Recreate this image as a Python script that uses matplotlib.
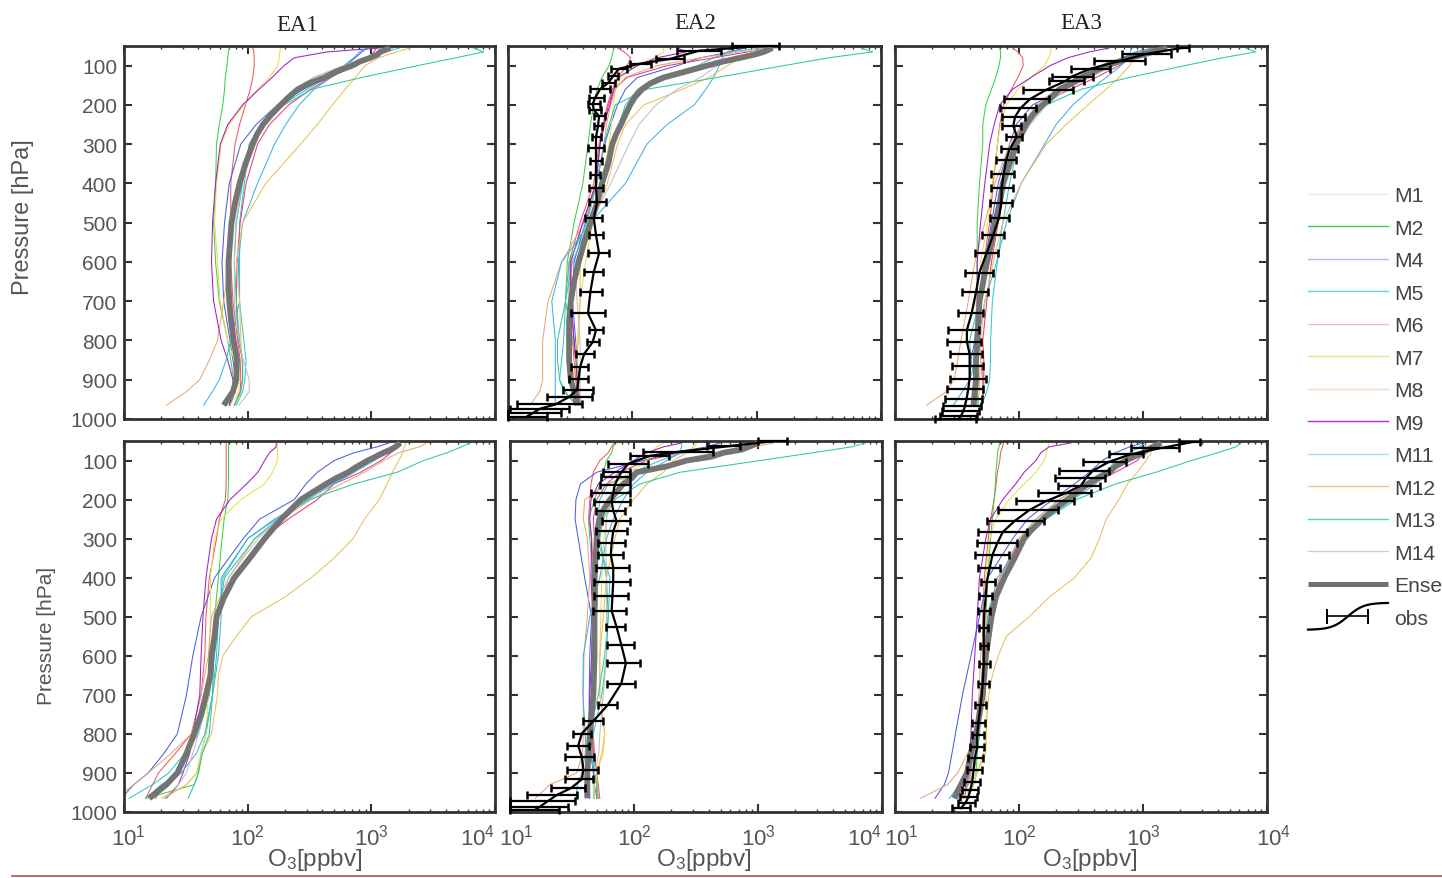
import numpy as np
import matplotlib
matplotlib.use("Agg")
import matplotlib.pyplot as plt
from matplotlib.lines import Line2D
from matplotlib.legend_handler import HandlerBase
from matplotlib.transforms import ScaledTranslation

plt.rcParams['font.family'] = ['Liberation Sans', 'DejaVu Sans']
plt.rcParams['mathtext.default'] = 'regular'

# pressure levels of the profiles [hPa]
LEVELS = [55, 65, 80, 100, 130, 160, 200, 250, 300, 400, 500, 600, 700, 800, 850, 900, 930, 965]
FINE_LEVELS = [55, 65, 80, 100, 130, 160, 200, 250, 300, 350, 400, 450, 500, 550, 600, 650, 700, 800, 850, 900, 930, 965]
ENS_LEVELS = [55, 65, 72, 80, 90, 100, 115, 130, 145, 160, 180, 200, 225, 250, 275, 300, 350, 400, 450, 500,
              550, 600, 650, 700, 750, 800, 850, 900, 930, 965]
MODELS = ['M1', 'M2', 'M4', 'M5', 'M6', 'M7', 'M8', 'M9', 'M11', 'M12', 'M13', 'M14']
COLORS = ['#ec5a62', '#3fd04a', '#4a5fe0', '#35c8c8', '#e83a80', '#e8e050',
          '#e8a878', '#a020c8', '#40b0e8', '#e8c060', '#30c8a0', '#c0c0c0']
LEGEND_COLORS = ['#f8e6ea', '#3fd04a', '#b4b4f0', '#60d8d4', '#f5b8c8', '#e8e880',
                 '#f5d8c0', '#b030d0', '#a8dcf0', '#f0c878', '#50d8b0', '#d0d0d0']

EA1_UPPER = {
    'M1': [110, 112, 113, 113, 110, 105, 96, 86, 79, 73, 73, 73, 76, 83, 87, 88, 87, 78],
    'M2': [71, 70, 69, 68, 66, 65, 63, 59, 56, 55, 53, 55, 59, 69, 73, 77, 76, 71],
    'M4': [925, 840, 740, 620, 440, 285, 174, 117, 88, 71, 65, 62, 64, 72, 76, 80, 79, 72],
    'M5': [1700, 1300, 950, 770, 440, 305, 187, 128, 103, 94, 86, 86, 86, 93, 97, 95, 91, 81],
    'M6': [1100, 1050, 980, 720, 470, 325, 215, 150, 120, 97, 87, 82, 81, 84, 91, 91, 87, 78],
    'M7': [184, 182, 180, 175, 150, 120, 94, 71, 61, 56, 54, 57, 60, 69, 78, 85, 85, 72],
    'M8': [1490, 1150, 900, 600, 345, 245, 174, 130, 110, 88, 75, 71, 64, 57, 49, 41, 32, 22],
    'M9': [1180, 440, 238, 197, 158, 124, 91, 69, 60, 55, 52, 51, 53, 61, 69, 76, 76, 71],
    'M11': [920, 800, 720, 600, 475, 345, 261, 203, 165, 120, 91, 84, 86, 73, 67, 59, 52, 44],
    'M12': [2060, 1600, 1150, 890, 743, 615, 485, 365, 268, 140, 91, 81, 86, 88, 90, 91, 88, 78],
    'M13': [6700, 8100, 4830, 2370, 840, 333, 197, 128, 103, 91, 81, 78, 81, 86, 91, 91, 88, 78],
    'M14': [1500, 1200, 950, 600, 340, 240, 175, 130, 112, 90, 80, 78, 78, 85, 92, 103, 103, 85],
}
EA1_UPPER_ENS = [1420, 1180, 1120, 980, 800, 700, 520, 420, 315, 255, 215, 185, 155, 133, 119, 110, 96, 86, 79, 74,
                 72, 70, 70, 71, 73.5, 77, 82, 81, 76, 64]

EA2_UPPER = {
    'M1': [76, 86, 97, 91, 76, 69, 63, 58, 54, 49, 38, 31, 31, 33, 34, 35, 36, 39],
    'M2': [71, 70, 68, 65, 57, 52, 49, 46, 44, 40, 34, 30, 29, 33, 36, 37, 37, 38],
    'M4': [800, 620, 355, 230, 110, 88, 76, 67, 60, 51, 42, 34, 33, 35, 36, 36, 36, 38],
    'M5': [1090, 620, 450, 335, 158, 110, 88, 78, 69, 57, 45, 33, 29, 28, 27, 26, 28, 36],
    'M6': [1220, 850, 455, 190, 91, 71, 64, 60, 55, 51, 40, 32, 32, 34, 35, 37, 37, 39],
    'M7': [178, 178, 150, 106, 81, 73, 70, 68, 65, 56, 48, 42, 38, 36, 36, 36, 36, 37],
    'M8': [1470, 740, 355, 158, 88, 73, 67, 62, 59, 52, 41, 27, 21, 19, 19, 19, 18, 15],
    'M9': [230, 270, 158, 110, 77, 71, 66, 59, 55, 51, 40, 32, 32, 34, 35, 36, 36, 37],
    'M11': [660, 580, 530, 500, 450, 390, 315, 190, 131, 88, 46, 27, 22.5, 24, 24, 24, 24, 24],
    'M12': [1400, 1030, 750, 580, 415, 253, 124, 88, 76, 63, 48, 38, 38, 37, 35, 33, 33, 35],
    'M13': [6900, 8600, 3800, 1650, 485, 131, 73, 65, 59, 52, 43, 31, 29, 25, 25, 26, 29, 35],
    'M14': [1250, 950, 660, 480, 355, 230, 155, 113, 94, 67, 46, 35, 36, 38, 38, 38, 38, 38],
}
EA2_UPPER_ENS = [1340, 1140, 960, 740, 530, 400, 270, 180, 140, 120, 105, 96, 88, 81, 74, 69, 64, 57, 52, 46,
                 41, 37, 34, 32, 31, 31, 31, 32, 34, 36]

EA3_UPPER = {
    'M1': [89, 98, 107, 108, 98, 87, 75, 70, 67, 62, 58, 52, 48, 48, 49, 51, 51, 50],
    'M2': [70, 71, 71, 69, 65, 60, 54, 51, 51, 48, 46, 46, 46, 47, 47, 47, 46, 45],
    'M4': [1195, 880, 680, 570, 370, 225, 129, 95, 84, 68, 60, 53, 47, 44, 41, 40, 39, 36],
    'M5': [1195, 935, 695, 475, 320, 212, 152, 115, 98, 84, 74, 67, 61, 59, 59, 58, 55, 50],
    'M6': [1270, 1010, 780, 640, 420, 258, 146, 104, 89, 77, 68, 60, 55, 51, 52, 52, 52, 50],
    'M7': [180, 180, 174, 161, 125, 98, 79, 71, 67, 61, 56, 49, 45, 45, 46, 47, 47, 46],
    'M8': [1440, 1080, 735, 480, 290, 200, 139, 105, 84, 64, 53, 44, 39, 34, 32, 30, 26, 18],
    'M9': [535, 370, 247, 178, 125, 89, 70, 63, 58, 53, 49, 46, 46, 46, 45, 45, 44, 42],
    'M11': [800, 790, 780, 665, 505, 380, 272, 199, 161, 104, 79, 66, 53, 47, 45, 40, 35, 29.5],
    'M12': [985, 935, 850, 780, 640, 505, 360, 240, 166, 104, 74, 62, 53, 49, 49, 48, 48, 46],
    'M13': [6700, 8100, 4400, 2170, 780, 320, 166, 108, 92, 77, 66, 58, 48, 40, 41, 44, 46, 47],
    'M14': [1420, 1070, 780, 575, 370, 240, 167, 123, 99, 79, 66, 56, 50, 48, 47, 47, 46, 44],
}
EA3_UPPER_ENS = [1570, 1195, 1010, 780, 634, 505, 397, 320, 266, 212, 184, 155, 130, 114, 104, 95, 84, 74, 70, 64,
                 60, 55, 51.5, 48, 47, 46, 45, 45, 44, 43]

EA1_LOWER = {
    'M1': [67, 67, 67, 67, 67, 67, 66, 59, 56, 49, 46, 45, 42, 35, 26, 19, 17, 15],
    'M2': [70, 70, 70, 70, 70, 70, 69, 64.5, 62, 58, 54, 53, 52, 46, 42, 40, 37, 15],
    'M4': [1390, 1110, 725, 500, 366, 296, 238, 125, 92, 54, 42, 36, 32, 27, 21, 15.7, 12, 9.5],
    'M5': [1670, 1530, 1260, 1000, 725, 475, 290, 170, 100, 63, 58, 54, 49, 40, 31, 23, 17, 11],
    'M6': [1715, 1640, 1440, 1200, 820, 500, 366, 213, 132, 74, 58, 52, 46, 36, 32, 27, 21, 18],
    'M7': [174, 174, 174, 174, 159, 137, 88, 61, 54, 50, 50, 49, 48, 46, 42, 38.5, 32, 20],
    'M8': [2800, 2450, 1670, 1260, 880, 570, 325, 187, 114, 70, 51, 48, 42, 35, 24, 15.7, 12, 8.5],
    'M9': [170, 170, 150, 137, 121, 98, 72, 56, 51, 46, 43.5, 42, 41, 36, 34, 30, 27.5, 22],
    'M11': [1640, 1480, 1260, 1060, 725, 500, 305, 165, 100, 61, 61, 58, 52, 45, 38.5, 29, 20, 15],
    'M12': [1900, 1850, 1790, 1670, 1480, 1340, 1160, 880, 710, 500, 326, 199, 107, 81, 63, 58, 57, 51, 43, 39, 32, 21],
    'M13': [6300, 5350, 4100, 2650, 1620, 725, 316, 174, 114, 65, 58, 56, 52, 49, 43, 40, 37, 33],
    'M14': [1670, 1440, 1120, 880, 610, 420, 270, 174, 121, 70, 58, 52, 48, 40, 36, 32, 27.5, 21],
}
EA1_LOWER_ENS = [1715, 1570, 1440, 1260, 1090, 935, 770, 650, 520, 430, 340, 270, 225, 187, 160, 137, 104, 78, 64.5, 56,
                 54, 51, 50, 46, 42, 37, 32, 27, 22, 16]

EA2_LOWER = {
    'M1': [69, 66, 62, 53, 47, 45, 44, 43, 45.5, 47.5, 47, 45.5, 45.5, 47, 48, 50, 51.5, 53],
    'M2': [70, 68, 66, 60, 56.5, 53, 48, 43, 44, 47, 48, 48, 47, 46, 47, 48, 48, 50],
    'M4': [495, 386, 208, 119, 50, 37, 34, 33.5, 35.5, 40, 45.5, 44, 43.5, 43.5, 43, 43, 43.5, 44],
    'M5': [1042, 437, 250, 162, 99, 62, 53, 51, 50, 64, 62, 60, 55, 47, 46, 48, 50, 50],
    'M6': [920, 465, 235, 127, 77, 60, 50, 47, 48, 50, 48, 47, 46.5, 46, 47, 50, 50.5, 50.5],
    'M7': [173, 152, 139, 127, 93, 77, 66, 60, 57, 55, 54, 53, 53, 58, 56.5, 50, 50.5, 51.5],
    'M8': [1335, 920, 437, 235, 119, 60, 40, 39, 42, 44, 42, 39.5, 39, 39, 38.5, 34.5, 21, 16],
    'M9': [242, 173, 127, 99, 70, 51.5, 45, 44, 45.5, 45, 46.5, 45.5, 44, 43, 45, 47, 48, 48],
    'M11': [242, 242, 235, 184, 127, 99, 82, 68, 60, 53, 44, 39, 38.7, 40.5, 40.5, 38, 35, 34],
    'M12': [320, 301, 266, 208, 173, 127, 99, 77, 70, 60, 56.5, 53, 53, 58, 55, 50, 48, 48],
    'M13': [7300, 5700, 2790, 1042, 235, 112, 70, 56.5, 53, 60, 62, 58, 51.5, 44, 44, 48, 50, 51.5],
    'M14': [1010, 813, 495, 266, 107, 82, 65, 60, 59, 60, 60, 60, 56.5, 53, 52, 48, 47, 47],
}
EA2_LOWER_ENS = [1010, 840, 740, 527, 423, 266, 184, 105, 96, 82, 72.5, 64, 57, 52.5, 51, 50, 49, 48, 48.5, 48,
                 48, 48, 47.5, 47, 45.5, 44, 43, 42, 42, 42]

EA3_LOWER = {
    'M1': [75, 73.5, 71, 70, 67, 65.5, 63, 59, 56.5, 52.5, 51, 51, 50, 45, 42.5, 41, 38.5, 36],
    'M2': [70, 69, 67, 66.5, 65, 64.5, 63, 61, 59, 56, 54, 53, 51, 48, 46, 45, 43, 38.5],
    'M4': [1000, 780, 600, 470, 370, 280, 187, 117, 89, 56, 48, 41, 35, 30.7, 28.8, 27, 25, 21],
    'M5': [1320, 1130, 935, 710, 470, 328, 212, 137, 100, 70, 58, 52.5, 49, 45.5, 42, 40, 36, 32],
    'M6': [1060, 1040, 1020, 900, 600, 394, 232, 150, 104, 70, 56, 52, 50, 45.5, 42, 40, 37.5, 34.5],
    'M7': [175, 172, 166, 160, 137, 110, 83, 65, 58, 54, 53.5, 53, 54, 55, 54, 46, 42, 36],
    'M8': [1350, 1200, 935, 710, 505, 328, 212, 137, 100, 70, 54, 49, 47.5, 44, 38.5, 32, 26.5, 16],
    'M9': [262, 175, 150, 137, 110, 94, 74, 59, 54, 48, 46, 44, 42, 41, 40, 39, 36, 32],
    'M11': [1060, 935, 780, 600, 505, 415, 272, 165, 110, 67, 56, 52, 50, 45, 41, 37, 33, 27.5],
    'M12': [1255, 1210, 1160, 1060, 900, 750, 640, 505, 445, 380, 280, 175, 121, 79, 68, 61, 57, 54, 52, 46, 43, 39],
    'M13': [6200, 5600, 4000, 2460, 1270, 600, 290, 165, 114, 74, 58, 52.5, 49, 48, 46, 43, 39, 33],
    'M14': [1400, 1200, 1000, 750, 550, 370, 246, 160, 114, 76, 59, 54, 51, 45.5, 42, 40, 36, 32],
}
EA3_LOWER_ENS = [1400, 1200, 1090, 1000, 850, 725, 600, 535, 432, 360, 298, 245, 190, 155, 128, 110, 92, 76, 65, 60,
                 57, 54, 52.5, 51, 48, 45, 41, 38, 34, 30]

# observations: pressure, lower bound, mean, upper bound
OBS_EA2_UPPER_P = [51, 62, 83, 95, 108, 127, 144, 160, 183, 198, 212, 229, 253, 283, 310, 343, 378, 411, 448,
                   489, 531, 578, 625, 676, 731, 774, 804, 834, 868, 897, 925, 944, 963, 974, 984, 995]
OBS_EA2_UPPER_L = [637, 230, 155, 95, 67, 64, 57, 46, 45, 44, 45, 49, 49, 47, 44, 46, 46, 45, 45,
                   42, 45, 44, 41, 38, 32, 45, 43, 35, 32, 31, 27.5, 20.5, 11.9, 10.4, 10, 10]
OBS_EA2_UPPER_C = [980, 345, 200, 115, 78, 70, 64, 55, 50, 48, 49, 54, 53, 51, 51, 51, 51, 51, 52,
                   49, 51, 54, 49, 46, 44, 51, 48, 41, 38, 37, 36, 31, 24, 18, 16, 14]
OBS_EA2_UPPER_H = [1515, 515, 260, 140, 91, 76, 73, 66, 59, 55, 56, 60, 57, 56, 59, 57, 55, 58, 61,
                   57, 58, 65, 58, 57, 60, 58, 54, 49, 44, 44, 48, 47.5, 39.6, 31, 26.5, 20.5]

OBS_EA3_UPPER_P = [55, 70, 87, 108, 128, 140, 161, 185, 208, 230, 253, 281, 313, 341, 376, 412, 449, 487, 531,
                   576, 627, 677, 731, 773, 803, 835, 866, 897, 923, 948, 967, 980, 993, 1000]
OBS_EA3_UPPER_L = [1870, 675, 403, 261, 184, 174, 108, 75, 70, 72.5, 72.5, 79, 71, 65, 60, 59, 58, 58, 50,
                   44, 37, 34.5, 32, 27, 26.5, 28, 29, 27.8, 26.5, 25.3, 24.3, 23.8, 23, 21]
OBS_EA3_UPPER_C = [2040, 1070, 675, 375, 266, 235, 167, 123, 103, 93, 90, 96, 84, 79, 75, 72.5, 72, 69, 62,
                   55, 48, 45, 41.5, 38, 38, 40, 40, 40, 39, 37.8, 36.7, 35.5, 34, 32.4]
OBS_EA3_UPPER_H = [2350, 1670, 1042, 537, 393, 335, 274, 173, 137, 112, 103, 105, 99, 95, 91, 89, 88, 83, 76,
                   68, 62, 56.5, 51, 48, 49, 50, 51, 54, 51, 50, 49, 48, 46, 45]

OBS_EA2_LOWER_P = [51, 64, 77, 88, 108, 130, 143, 162, 183, 206, 228, 256, 281, 311, 341, 374, 410, 446, 485,
                   527, 572, 619, 671, 727, 767, 799, 830, 860, 893, 916, 939, 956, 973, 986, 994]
OBS_EA2_LOWER_L = [1000, 390, 119, 92, 62, 56.5, 54, 53, 45, 48, 49.5, 55, 49.5, 51.5, 51, 49.5, 47.5, 48, 47,
                   60, 61, 61, 61, 51.5, 39, 32, 29, 28, 29, 28, 21.5, 13.8, 10, 10, 10]
OBS_EA2_LOWER_C = [1290, 560, 235, 135, 90, 79, 75, 70, 68, 66, 68, 72.5, 68, 66, 65, 68, 68, 67, 66,
                   72.5, 79, 86, 79, 61, 47, 38, 35.5, 38, 39, 38, 31, 24, 20, 17.5, 16]
OBS_EA2_LOWER_H = [1720, 718, 437, 190, 130, 93, 92, 92, 92, 92, 85, 92, 87, 85, 81, 91, 93, 90, 86,
                   84, 100, 112, 102, 72.5, 56.5, 45, 43, 48, 51, 47, 40, 34.5, 33.5, 29.5, 25]

OBS_EA3_LOWER_P = [53, 69, 84, 103, 126, 145, 164, 183, 204, 227, 255, 283, 311, 342, 376, 410, 447, 486, 529,
                   574, 622, 673, 726, 771, 803, 833, 862, 892, 922, 943, 962, 977, 990]
OBS_EA3_LOWER_L = [1960, 800, 535, 330, 211, 196, 205, 141, 95, 68, 55, 47, 45.5, 44, 47, 49, 48, 47, 48,
                   48.5, 48, 47, 44, 42, 42, 40.5, 39, 38, 36, 35, 33.5, 32, 29]
OBS_EA3_LOWER_C = [2470, 1350, 800, 535, 394, 347, 316, 240, 165, 121, 92, 74, 67, 61, 58, 55, 54, 52.5, 52,
                   52, 52, 51, 49, 47, 46, 46, 44, 43, 42, 40.5, 39, 37, 34]
OBS_EA3_LOWER_H = [2900, 1960, 1000, 725, 535, 490, 450, 382, 280, 205, 158, 115, 96, 83, 70, 64, 61, 58, 56.5,
                   56, 58, 57, 54, 53, 52.5, 52, 51, 50, 48.5, 47, 45.5, 44, 40.5]

PRESSURE_TICKS = [100, 200, 300, 400, 500, 600, 700, 800, 900, 1000]
O3_TICKS = [10, 100, 1000, 10000]
O3_TICK_LABELS = [r'$10^{1}$', r'$10^{2}$', r'$10^{3}$', r'$10^{4}$']
TITLES = ['EA1', 'EA2', 'EA3']
ENS_LABEL = 'Ense'
OBS_LABEL = 'obs'

W, H = 1442, 879
GREY = '#555555'
FRAME = '#333333'
fig = plt.figure(figsize=(W / 100, H / 100), dpi=100)


def make_axes(x0, x1, ytop, ybot):
    return fig.add_axes([x0 / W, 1 - ybot / H, (x1 - x0) / W, (ybot - ytop) / H])


def shift_label(label, dx_px):
    label.set_transform(label.get_transform() + ScaledTranslation(dx_px / 100, 0, fig.dpi_scale_trans))


panels = [
    (124, 495, 47, 420, EA1_UPPER, EA1_UPPER_ENS, None),
    (508, 881, 47, 420, EA2_UPPER, EA2_UPPER_ENS,
     (OBS_EA2_UPPER_P, OBS_EA2_UPPER_L, OBS_EA2_UPPER_C, OBS_EA2_UPPER_H)),
    (895, 1267, 47, 420, EA3_UPPER, EA3_UPPER_ENS,
     (OBS_EA3_UPPER_P, OBS_EA3_UPPER_L, OBS_EA3_UPPER_C, OBS_EA3_UPPER_H)),
    (124, 495, 442, 813, EA1_LOWER, EA1_LOWER_ENS, None),
    (510, 882, 442, 813, EA2_LOWER, EA2_LOWER_ENS,
     (OBS_EA2_LOWER_P, OBS_EA2_LOWER_L, OBS_EA2_LOWER_C, OBS_EA2_LOWER_H)),
    (895, 1267, 442, 813, EA3_LOWER, EA3_LOWER_ENS,
     (OBS_EA3_LOWER_P, OBS_EA3_LOWER_L, OBS_EA3_LOWER_C, OBS_EA3_LOWER_H)),
]

title_pos = [(297, 31), (695, 29), (1081, 29)]
xlabel_cx = [315, 704, 1090]

for i, (x0, x1, yt, yb, models, ens, obs) in enumerate(panels):
    ax = make_axes(x0, x1, yt, yb)
    for name, col in zip(MODELS, COLORS):
        vals = models[name]
        ax.plot(vals, LEVELS if len(vals) == len(LEVELS) else FINE_LEVELS, color=col, lw=0.75, zorder=2)
    ax.plot(ens, ENS_LEVELS, color='#747474', lw=4.2, solid_capstyle='butt', zorder=3)
    if obs is not None:
        p, lo, c, hi = [np.asarray(a, float) for a in obs]
        ax.errorbar(c, p, xerr=[c - lo, hi - c], color='black', lw=1.6, elinewidth=1.6,
                    capsize=3.2, capthick=1.8, zorder=4, clip_on=False)
    ax.set_xscale('log')
    ax.set_xlim(10, 10000)
    ax.set_ylim(1000, 50)
    ax.set_yticks(PRESSURE_TICKS)
    ax.set_xticks(O3_TICKS)
    ax.xaxis.set_minor_locator(matplotlib.ticker.LogLocator(base=10, subs=range(2, 10), numticks=10))
    ax.xaxis.set_minor_formatter(matplotlib.ticker.NullFormatter())
    ax.tick_params(which='major', direction='in', top=True, right=True, length=5.5, width=1.5,
                   color=FRAME, labelcolor=GREY)
    ax.tick_params(which='minor', direction='in', top=True, right=False, length=2.5, width=1.0, color=FRAME)
    ax.tick_params(axis='x', which='major', pad=8, labelsize=16)
    ax.tick_params(axis='y', which='major', pad=5, labelsize=15)
    for s in ax.spines.values():
        s.set_linewidth(2.0)
        s.set_color(FRAME)
    col = i % 3
    if i < 3:
        ax.set_xticklabels([])
        tx, ty = title_pos[col]
        fig.text(tx / W, 1 - ty / H, TITLES[col], family='Liberation Serif', fontsize=16.5,
                 color='#222222', ha='center', va='baseline')
    else:
        ax.set_xticklabels(O3_TICK_LABELS)
        tick_labels = ax.get_xticklabels()
        if col < 2:
            tick_labels[-1].set_ha('right')
        else:
            shift_label(tick_labels[-1], 7)
        if col > 0:
            shift_label(tick_labels[0], 6)
        else:
            shift_label(tick_labels[0], 4)
        fig.text(xlabel_cx[col] / W, 1 - 860 / H, r'O$_{3}$[ppbv]', fontsize=17.5, color=GREY,
                 ha='center', va='center')
    if i == 0:
        fig.text(23 / W, 1 - 217 / H, 'Pressure [hPa]', rotation=90, fontsize=17, color=GREY,
                 ha='center', va='center')
    if i == 3:
        fig.text(46 / W, 1 - 636 / H, 'Pressure [hPa]', rotation=90, fontsize=15, color=GREY,
                 ha='center', va='center')
    if i in (1, 2, 4, 5):
        ax.set_yticklabels([])


class ObsKey:
    pass


class ObsKeyHandler(HandlerBase):
    def create_artists(self, legend, orig, xd, yd, width, height, fontsize, trans):
        t = np.linspace(0, 1, 40)
        x = -xd + width * t
        y = -yd + height / 2 + 0.64 * fontsize * np.tanh(5 * (t - 0.5))
        curve = Line2D(x, y, color='black', lw=1.6, transform=trans)
        cy = -yd + height / 2
        xa, xb = -xd + 0.24 * width, -xd + 0.75 * width
        bar = Line2D([xa, xb], [cy, cy], color='black', lw=1.2, transform=trans)
        c1 = Line2D([xa, xa], [cy - 4.8, cy + 4.8], color='black', lw=1.4, transform=trans)
        c2 = Line2D([xb, xb], [cy - 4.8, cy + 4.8], color='black', lw=1.4, transform=trans)
        return [curve, bar, c1, c2]


handles = [Line2D([], [], color=c, lw=1.0) for c in LEGEND_COLORS]
handles.append(Line2D([], [], color='#707070', lw=3.6, solid_capstyle='butt'))
handles.append(ObsKey())
labels = MODELS + [ENS_LABEL, OBS_LABEL]
fig.legend(handles, labels, loc='upper left', bbox_to_anchor=(1308 / W, 1 - 187 / H),
           frameon=False, fontsize=15.2, labelcolor='#444444', borderpad=0, borderaxespad=0,
           handlelength=3.79, handletextpad=0.28, labelspacing=0.64,
           handler_map={ObsKey: ObsKeyHandler()})

fig.add_artist(Line2D([12 / W, 1], [1 - 877 / H, 1 - 877 / H], color='#b0505f', lw=1.2,
                      transform=fig.transFigure))

fig.savefig('out.png', dpi=100)
